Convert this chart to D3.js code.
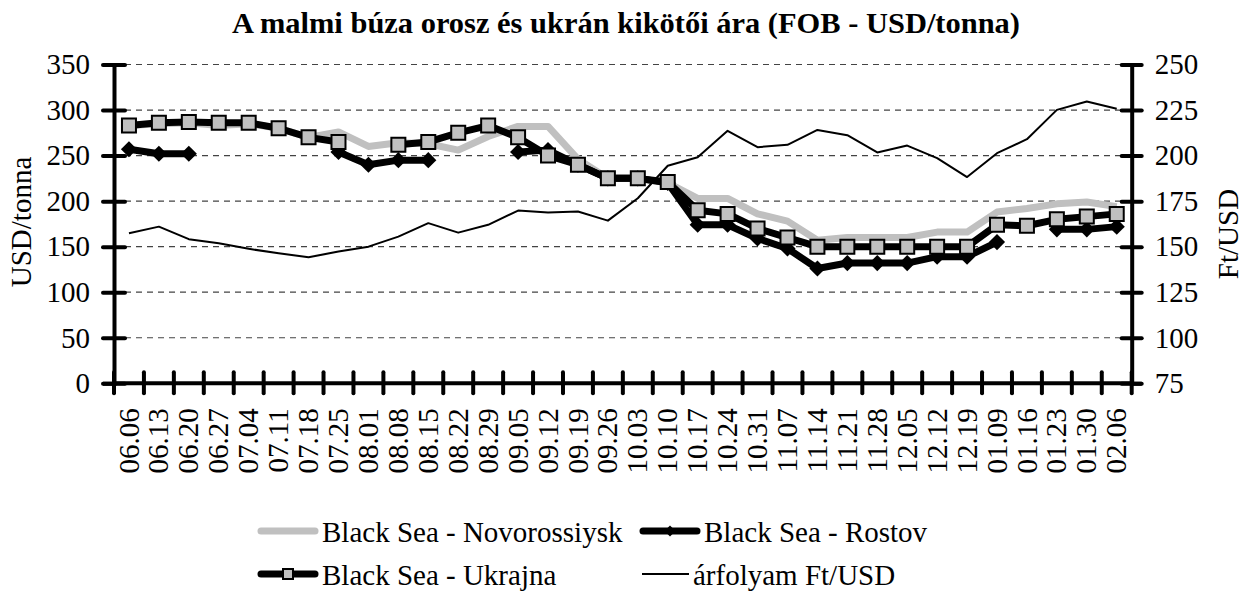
<!DOCTYPE html>
<meta charset="utf-8">
<style>
body { margin: 0; background: #fff; }
text { font-family: "Liberation Serif", "Times New Roman", serif; fill: #000; }
</style>
<body>
<script src="https://cdnjs.cloudflare.com/ajax/libs/d3/7.8.5/d3.min.js"></script>
<script>
var dates = ["06.06","06.13","06.20","06.27","07.04","07.11","07.18","07.25","08.01","08.08",
  "08.15","08.22","08.29","09.05","09.12","09.19","09.26","10.03","10.10","10.17",
  "10.24","10.31","11.07","11.14","11.21","11.28","12.05","12.12","12.19","01.09",
  "01.16","01.23","01.30","02.06"];
var novorossiysk = [283,285,286,283,285,280,270,276,260,264,263,256,271,282,282,246,225,225,220,203,
  203,186,178,157,160,160,160,166,166,188,192,197,199,194];
var rostov = [257,252,252,null,null,null,null,254,240,245,245,null,null,254,256,240,225,225,220,174,
  174,159,148,126,132,132,132,139,139,155,null,169,169,172];
var ukrajna = [283,286,287,286,286,280,270,265,null,262,265,275,283,270,250,240,225,225,221,190,
  186,170,160,150,150,150,150,150,150,174,173,180,183,186];
var arfolyam = [157.4,161,154.1,151.9,148.8,146.4,144.2,147.3,150,155.5,162.9,157.7,162,169.8,168.7,169.3,164.3,176.6,194.4,199.1,
  213.6,204.6,205.9,214.1,211.2,201.7,205.5,198.6,188.2,201.3,209,225.1,229.7,225.7];
var leftTicks = [0,50,100,150,200,250,300,350];
var rightTicks = [75,100,125,150,175,200,225,250];

var width = 1248, height = 594;
var pLeft = 114, pRight = 1131.7, pTop = 64.5, pBottom = 383.3;

var svg = d3.select("body").append("svg")
  .attr("width", width)
  .attr("height", height);

var x = d3.scaleBand().domain(dates).range([pLeft, pRight]).padding(0);
var yL = d3.scaleLinear().domain([0, 350]).range([pBottom, pTop]);
var yR = d3.scaleLinear().domain([75, 250]).range([pBottom, pTop]);
var cx = function(i) { return x(dates[i]) + x.bandwidth() / 2; };

// title
svg.append("text")
  .attr("x", 626).attr("y", 33)
  .attr("text-anchor", "middle")
  .attr("font-size", 29).attr("font-weight", "bold")
  .attr("textLength", 788).attr("lengthAdjust", "spacingAndGlyphs")
  .text("A malmi búza orosz és ukrán kikötői ára (FOB - USD/tonna)");

// gridlines
svg.append("g")
  .selectAll("line")
  .data(leftTicks.filter(function(d) { return d > 0; }))
  .enter().append("line")
  .attr("x1", pLeft).attr("x2", pRight)
  .attr("y1", function(d) { return yL(d); })
  .attr("y2", function(d) { return yL(d); })
  .attr("stroke", "#444").attr("stroke-width", 1.2)
  .attr("stroke-dasharray", "6,5");

// left axis
var gL = svg.append("g")
  .attr("transform", "translate(" + pLeft + ",0)")
  .call(d3.axisLeft(yL).tickValues(leftTicks).tickSize(11).tickPadding(13));
gL.select(".domain").attr("stroke-width", 4);
gL.selectAll(".tick line").attr("x1", -11).attr("x2", 11)
  .attr("stroke-width", 4).attr("stroke-linecap", "round");
gL.selectAll("text").attr("font-size", 29).attr("font-family", "Liberation Serif");

// right axis
var gR = svg.append("g")
  .attr("transform", "translate(" + pRight + ",0)")
  .call(d3.axisRight(yR).tickValues(rightTicks).tickSize(10).tickPadding(13));
gR.select(".domain").attr("stroke-width", 4);
gR.selectAll(".tick line").attr("x1", -10).attr("x2", 10)
  .attr("stroke-width", 4).attr("stroke-linecap", "round");
gR.selectAll("text").attr("font-size", 29).attr("font-family", "Liberation Serif");

// x axis: labels from the band scale, ticks between categories
var gX = svg.append("g")
  .attr("transform", "translate(0," + pBottom + ")")
  .call(d3.axisBottom(x).tickSize(0));
gX.select(".domain").attr("stroke-width", 4).attr("d", "M" + pLeft + ",0H" + pRight);
gX.selectAll("text")
  .attr("transform", "rotate(-90)")
  .attr("text-anchor", "end")
  .attr("x", -25).attr("y", 0).attr("dy", "0.33em")
  .attr("font-size", 29).attr("font-family", "Liberation Serif");
gX.append("g").selectAll("line")
  .data(dates.concat(["end"]))
  .enter().append("line")
  .attr("x1", function(d) { return d == "end" ? pRight : x(d); })
  .attr("x2", function(d) { return d == "end" ? pRight : x(d); })
  .attr("y1", -11).attr("y2", 10)
  .attr("stroke", "#000").attr("stroke-width", 4).attr("stroke-linecap", "round");

// axis titles
svg.append("text")
  .attr("transform", "translate(31,222) rotate(-90)")
  .attr("text-anchor", "middle").attr("font-size", 29)
  .text("USD/tonna");
svg.append("text")
  .attr("transform", "translate(1238,234) rotate(-90)")
  .attr("text-anchor", "middle").attr("font-size", 29)
  .text("Ft/USD");

function lineFor(vals, scale) {
  return d3.line()
    .defined(function(d) { return d != null; })
    .x(function(d, i) { return cx(i); })
    .y(function(d) { return scale(d); })(vals);
}

// series
svg.append("path").attr("d", lineFor(novorossiysk, yL))
  .attr("fill", "none").attr("stroke", "#c0c0c0").attr("stroke-width", 7)
  .attr("stroke-linejoin", "round");

svg.append("path").attr("d", lineFor(rostov, yL))
  .attr("fill", "none").attr("stroke", "#000").attr("stroke-width", 7)
  .attr("stroke-linejoin", "round");
var diamond = d3.symbol().type(d3.symbolSquare).size(130);
svg.append("g").selectAll("path")
  .data(rostov.map(function(v, i) { return {v: v, i: i}; }).filter(function(d) { return d.v != null; }))
  .enter().append("path")
  .attr("d", diamond)
  .attr("transform", function(d) { return "translate(" + cx(d.i) + "," + yL(d.v) + ") rotate(45)"; })
  .attr("fill", "#000");

svg.append("path").attr("d", lineFor(ukrajna, yL))
  .attr("fill", "none").attr("stroke", "#000").attr("stroke-width", 7)
  .attr("stroke-linejoin", "round");
var square = d3.symbol().type(d3.symbolSquare).size(196);
svg.append("g").selectAll("path")
  .data(ukrajna.map(function(v, i) { return {v: v, i: i}; }).filter(function(d) { return d.v != null; }))
  .enter().append("path")
  .attr("d", square)
  .attr("transform", function(d) { return "translate(" + cx(d.i) + "," + yL(d.v) + ")"; })
  .attr("fill", "#c0c0c0").attr("stroke", "#000").attr("stroke-width", 2);

svg.append("path").attr("d", lineFor(arfolyam, yR))
  .attr("fill", "none").attr("stroke", "#000").attr("stroke-width", 2)
  .attr("stroke-linejoin", "round");

// legend
var legend = [
  {name: "Black Sea - Novorossiysk", x: 258, y: 531, color: "#c0c0c0", w: 7, mark: null},
  {name: "Black Sea - Rostov", x: 640, y: 531, color: "#000", w: 7, mark: "diamond"},
  {name: "Black Sea - Ukrajna", x: 258, y: 574, color: "#000", w: 7, mark: "square"},
  {name: "árfolyam Ft/USD", x: 642, y: 574, color: "#000", w: 2, mark: null}
];
var lg = svg.append("g").selectAll("g").data(legend).enter().append("g")
  .attr("transform", function(d) { return "translate(" + d.x + "," + d.y + ")"; });
lg.append("line")
  .attr("x1", function(d) { return d.w > 2 ? 3 : 0; })
  .attr("x2", function(d) { return d.w > 2 ? 57 : 47; })
  .attr("stroke", function(d) { return d.color; })
  .attr("stroke-width", function(d) { return d.w; })
  .attr("stroke-linecap", function(d) { return d.w > 2 ? "round" : "butt"; });
lg.filter(function(d) { return d.mark == "diamond"; }).append("path")
  .attr("d", d3.symbol().type(d3.symbolSquare).size(60))
  .attr("transform", "translate(30,0) rotate(45)");
lg.filter(function(d) { return d.mark == "square"; }).append("path")
  .attr("d", d3.symbol().type(d3.symbolSquare).size(100))
  .attr("transform", "translate(30,0)")
  .attr("fill", "#c0c0c0").attr("stroke", "#000").attr("stroke-width", 2);
lg.append("text")
  .attr("x", function(d) { return d.w > 2 ? 64 : 51; })
  .attr("y", 11)
  .attr("font-size", 29)
  .text(function(d) { return d.name; });
</script>
</body>
